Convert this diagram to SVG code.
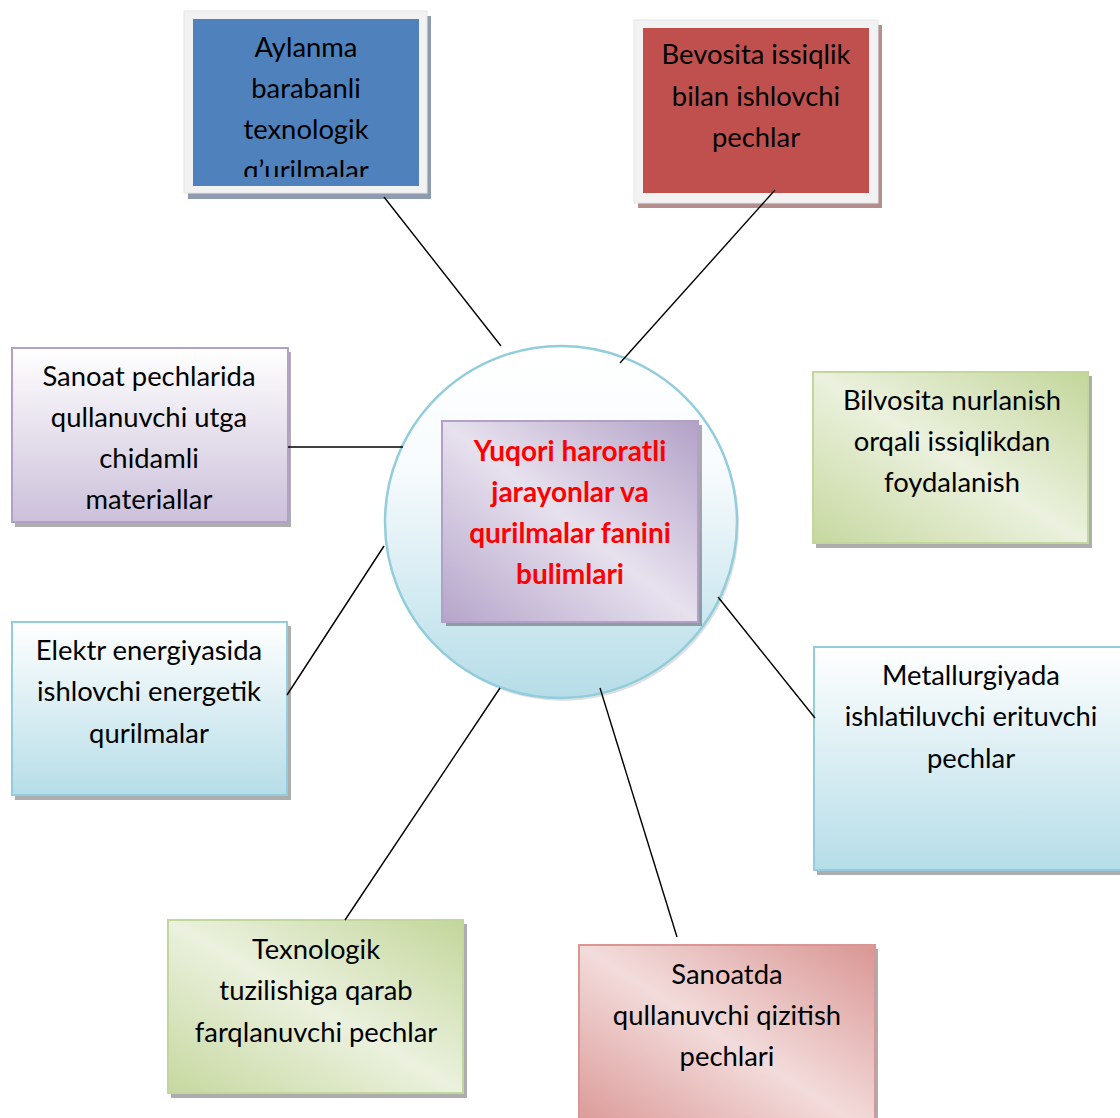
<svg xmlns="http://www.w3.org/2000/svg" width="1120" height="1118" viewBox="0 0 1120 1118">
<style>
.t{font-family:Lato,"Open Sans","Liberation Sans",sans-serif;font-size:27.4px;fill:#000;text-anchor:middle}
.c{font-family:Lato,"Open Sans","Liberation Sans",sans-serif;font-size:28px;font-weight:bold;fill:#FF0000;text-anchor:middle}
.sh{fill:#000;opacity:0.32}
.ln{stroke:#000;stroke-width:1.4;fill:none}
</style>
<defs>
<linearGradient id="gBlue" x1="0" y1="0" x2="0" y2="1"><stop offset="0" stop-color="#FFFFFF"/><stop offset="1" stop-color="#B6DDE8"/></linearGradient>
<linearGradient id="gCirc" x1="0" y1="0" x2="0" y2="1"><stop offset="0" stop-color="#FFFFFF"/><stop offset="0.35" stop-color="#F7FBFD"/><stop offset="1" stop-color="#B6DDE8"/></linearGradient>
<linearGradient id="gLav" x1="0" y1="0" x2="0" y2="1"><stop offset="0" stop-color="#FFFFFF"/><stop offset="1" stop-color="#CCC0DA"/></linearGradient>
<linearGradient id="gPur" x1="1" y1="0" x2="0" y2="1"><stop offset="0" stop-color="#B2A1C7"/><stop offset="0.5" stop-color="#E7E1EE"/><stop offset="1" stop-color="#B5A5CA"/></linearGradient>
<linearGradient id="gGrn" x1="1" y1="0" x2="0" y2="1"><stop offset="0" stop-color="#C3D69B"/><stop offset="0.5" stop-color="#EBF1DE"/><stop offset="1" stop-color="#C6D8A0"/></linearGradient>
<linearGradient id="gPnk" x1="1" y1="0" x2="0" y2="1"><stop offset="0" stop-color="#D99694"/><stop offset="0.5" stop-color="#F2DCDB"/><stop offset="1" stop-color="#D99694"/></linearGradient>
<clipPath id="clipA"><rect x="193" y="19" width="226" height="158"/></clipPath>
</defs>

<g id="center">
<circle cx="563" cy="525" r="176" fill="#000" opacity="0.12"/>
<circle cx="561" cy="522" r="176" fill="url(#gCirc)" stroke="#92CDDC" stroke-width="2.5"/>
<rect x="446" y="425" width="256" height="201" class="sh"/>
<rect x="442" y="421" width="256" height="201" fill="url(#gPur)" stroke="#B2A1C7" stroke-width="2"/>
<text class="c" x="570" y="461">Yuqori haroratli</text>
<text class="c" x="570" y="502">jarayonlar va</text>
<text class="c" x="570" y="543">qurilmalar fanini</text>
<text class="c" x="570" y="584">bulimlari</text>
</g>

<g id="n-aylanma">
<rect x="188" y="16" width="243" height="183" fill="#8E9BB0"/>
<rect x="184" y="11" width="243" height="182" fill="#F2F2F2" stroke="#E6E6E6" stroke-width="1"/>
<rect x="193" y="19" width="226" height="167" fill="#4F81BD"/>
<g clip-path="url(#clipA)">
<text class="t" x="306" y="57">Aylanma</text>
<text class="t" x="306" y="98">barabanli</text>
<text class="t" x="306" y="139">texnologik</text>
<text class="t" x="306" y="180">q’urilmalar</text>
</g>
</g>

<g id="n-bevosita">
<rect x="638" y="25" width="244" height="183" fill="#B38E8E"/>
<rect x="634" y="20" width="244" height="183" fill="#F2F2F2" stroke="#E6E6E6" stroke-width="1"/>
<rect x="643" y="28" width="226" height="165" fill="#C0504D"/>
<text class="t" x="756" y="64">Bevosita issiqlik</text>
<text class="t" x="756" y="106">bilan ishlovchi</text>
<text class="t" x="756" y="147">pechlar</text>
</g>

<g id="n-sanoat">
<rect x="15" y="352" width="276" height="175" class="sh"/>
<rect x="12" y="348" width="276" height="174" fill="url(#gLav)" stroke="#B2A1C7" stroke-width="2"/>
<text class="t" x="149" y="386">Sanoat pechlarida</text>
<text class="t" x="149" y="427">qullanuvchi utga</text>
<text class="t" x="149" y="468">chidamli</text>
<text class="t" x="149" y="509">materiallar</text>
</g>

<g id="n-bilvosita">
<rect x="816" y="376" width="276" height="172" class="sh"/>
<rect x="813" y="372" width="275" height="171" fill="url(#gGrn)" stroke="#C3D69B" stroke-width="2"/>
<text class="t" x="952" y="410">Bilvosita nurlanish</text>
<text class="t" x="952" y="451">orqali issiqlikdan</text>
<text class="t" x="952" y="492">foydalanish</text>
</g>

<g id="n-elektr">
<rect x="15" y="626" width="276" height="174" class="sh"/>
<rect x="12" y="622" width="275" height="173" fill="url(#gBlue)" stroke="#93CDDD" stroke-width="2"/>
<text class="t" x="149" y="660">Elektr energiyasida</text>
<text class="t" x="149" y="701">ishlovchi energetik</text>
<text class="t" x="149" y="743">qurilmalar</text>
</g>

<g id="n-metall">
<rect x="817" y="651" width="320" height="224" class="sh"/>
<rect x="814" y="647" width="320" height="223" fill="url(#gBlue)" stroke="#93CDDD" stroke-width="2"/>
<text class="t" x="971" y="685">Metallurgiyada</text>
<text class="t" x="971" y="726">ishlatiluvchi erituvchi</text>
<text class="t" x="971" y="768">pechlar</text>
</g>

<g id="n-texnologik">
<rect x="171" y="924" width="296" height="174" class="sh"/>
<rect x="168" y="920" width="295" height="173" fill="url(#gGrn)" stroke="#C3D69B" stroke-width="2"/>
<text class="t" x="316" y="959">Texnologik</text>
<text class="t" x="316" y="1000">tuzilishiga qarab</text>
<text class="t" x="316" y="1042">farqlanuvchi pechlar</text>
</g>

<g id="n-sanoatda">
<rect x="582" y="949" width="296" height="190" class="sh"/>
<rect x="579" y="945" width="296" height="190" fill="url(#gPnk)" stroke="#D99694" stroke-width="2"/>
<text class="t" x="727" y="984">Sanoatda</text>
<text class="t" x="727" y="1025">qullanuvchi qizitish</text>
<text class="t" x="727" y="1066">pechlari</text>
</g>

<g id="connectors">
<line class="ln" x1="384" y1="197" x2="501" y2="346"/>
<line class="ln" x1="775" y1="190" x2="620" y2="363"/>
<line class="ln" x1="288" y1="447" x2="403" y2="447"/>
<line class="ln" x1="384" y1="546" x2="287" y2="695"/>
<line class="ln" x1="718" y1="597" x2="815" y2="718"/>
<line class="ln" x1="500" y1="688" x2="345" y2="920"/>
<line class="ln" x1="600" y1="688" x2="677" y2="937"/>
</g>
</svg>
